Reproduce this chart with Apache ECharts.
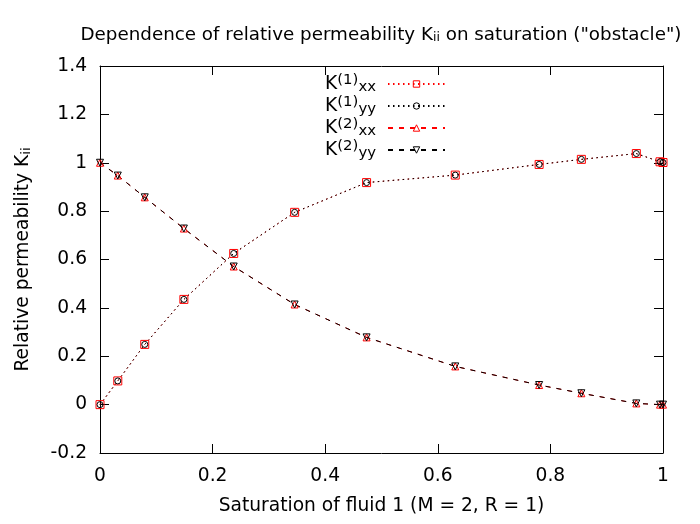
<!DOCTYPE html>
<html>
<head>
<meta charset="utf-8">
<script src="https://cdn.jsdelivr.net/npm/echarts@6/dist/echarts.min.js"></script>
<style>
html,body{margin:0;padding:0;background:#fff;}
#chart{width:700px;height:524px;}
</style>
</head>
<body>
<div id="chart"></div>
<script>
/********
 *  relative permeability vs saturation ("obstacle")
 */
var saturation = [0, 0.0316, 0.0795, 0.149, 0.2375, 0.3457, 0.4735, 0.631, 0.780, 0.855, 0.9526, 0.9947, 1.0];
var k1xx = [0, 0.098, 0.249, 0.435, 0.625, 0.795, 0.918, 0.949, 0.993, 1.014, 1.038, 1.004, 1.001];
var k1yy = [0, 0.098, 0.249, 0.435, 0.625, 0.795, 0.918, 0.949, 0.993, 1.014, 1.038, 1.004, 1.001];
var k2xx = [1.0, 0.947, 0.857, 0.728, 0.571, 0.414, 0.278, 0.158, 0.081, 0.047, 0.005, 0.0, 0.0];
var k2yy = [1.0, 0.947, 0.857, 0.728, 0.571, 0.414, 0.278, 0.158, 0.081, 0.047, 0.005, 0.0, 0.0];
var seriesNames = ["K1xx", "K1yy", "K2xx", "K2yy"];
var legendLabels = {
	"K1xx": ["(1)", "xx"],
	"K1yy": ["(1)", "yy"],
	"K2xx": ["(2)", "xx"],
	"K2yy": ["(2)", "yy"]
};
var xTicks = {min: 0, max: 1, step: 0.2};
var yTicks = {min: -0.2, max: 1.4, step: 0.2};

var FONT = "DejaVu Sans";
var FS = 18.67;   // 14pt
var FS_SMALL = 14.9;

/****
 * 把x和y拼成点
 */
function toPoints(xs, ys){
	var pts = [];
	for(var i=0;i<xs.length;i++){
		pts.push([xs[i], ys[i]]);
	}
	return pts;
}

/****
 * 一条线的配置
 */
function makeSeries(name, ys, color, dash, symbol, size, rotate){
	return {
		name: name,
		type: 'line',
		data: toPoints(saturation, ys),
		symbol: symbol,
		symbolSize: size,
		symbolRotate: rotate || 0,
		showAllSymbol: true,
		animation: false,
		itemStyle: {
			color: 'rgba(255,255,255,0)',
			borderColor: color,
			borderWidth: 1
		},
		lineStyle: {
			color: color,
			width: 1,
			type: dash
		},
		emphasis: {disabled: true}
	};
}

/****
 * 坐标轴 (gnuplot风格, 刻度朝内, 四边都有)
 */
function makeAxis(t, pos, showLabel, name, nameGap, margin){
	return {
		type: 'value',
		position: pos,
		min: t.min,
		max: t.max,
		interval: t.step,
		name: name,
		nameLocation: 'middle',
		nameGap: nameGap,
		nameTextStyle: {
			fontFamily: FONT,
			fontSize: FS,
			color: '#000',
			rich: {
				b: {fontFamily: FONT, fontSize: FS, color: '#000'},
				sub: {fontFamily: FONT, fontSize: 13, color: '#000', verticalAlign: 'bottom', lineHeight: 12}
			}
		},
		axisLine: {show: true, onZero: false, lineStyle: {color: '#000', width: 1}},
		axisTick: {show: true, inside: true, length: 9, lineStyle: {color: '#000', width: 1}},
		axisLabel: {
			show: showLabel,
			margin: margin,
			fontFamily: FONT,
			fontSize: FS,
			color: '#000'
		},
		splitLine: {show: false}
	};
}

function initChart(){
	var chart = echarts.init(document.getElementById("chart"));
	var option = {
		backgroundColor: '#fff',
		animation: false,
		title: {
			text: 'Dependence of relative permeability K{sub|ii} on saturation ("obstacle")',
			left: 376,
			top: 21,
			textAlign: 'center',
			textStyle: {
				fontFamily: FONT,
				fontSize: 18.3,
				fontWeight: 'normal',
				color: '#000',
				rich: {
					sub: {fontFamily: FONT, fontSize: 12.5, color: '#000', verticalAlign: 'bottom', lineHeight: 12}
				}
			}
		},
		legend: {
			data: seriesNames,
			orient: 'vertical',
			align: 'right',
			right: 254,
			top: 73,
			padding: 0,
			itemGap: 0,
			itemWidth: 57,
			itemHeight: 8,
			selectedMode: false,
			itemStyle: {borderWidth: 1},
			formatter: function(name){
				var p = legendLabels[name];
				return '{b|K}{sup|' + p[0] + '}{sub|' + p[1] + '}';
			},
			textStyle: {
				fontFamily: FONT,
				color: '#000',
				rich: {
					b: {fontFamily: FONT, fontSize: FS, color: '#000', lineHeight: 22},
					sup: {fontFamily: FONT, fontSize: FS_SMALL, color: '#000', lineHeight: 14, verticalAlign: 'top'},
					sub: {fontFamily: FONT, fontSize: FS_SMALL, color: '#000', lineHeight: 8, verticalAlign: 'bottom', padding: [0, 7, 0, 0]}
				}
			}
		},
		grid: {left: 100, right: 37, top: 66, bottom: 71, containLabel: false},
		xAxis: [
			makeAxis(xTicks, 'bottom', true, 'Saturation of fluid 1 (M = 2, R = 1)', 44, 14),
			makeAxis(xTicks, 'top', false, '', 0, 0)
		],
		yAxis: [
			makeAxis(yTicks, 'left', true, '{b|Relative permeability K}{sub|ii}', 67, 13),
			makeAxis(yTicks, 'right', false, '', 0, 0)
		],
		series: [
			makeSeries("K1xx", k1xx, '#ff0000', [1.5, 3.5], 'rect', 8),
			makeSeries("K1yy", k1yy, '#000000', [1.5, 3.5], 'circle', 6),
			makeSeries("K2xx", k2xx, '#ff0000', [5, 6], 'triangle', 7),
			makeSeries("K2yy", k2yy, '#000000', [5, 6], 'triangle', 7, 180)
		]
	};
	chart.setOption(option);
}

initChart();
</script>
</body>
</html>
